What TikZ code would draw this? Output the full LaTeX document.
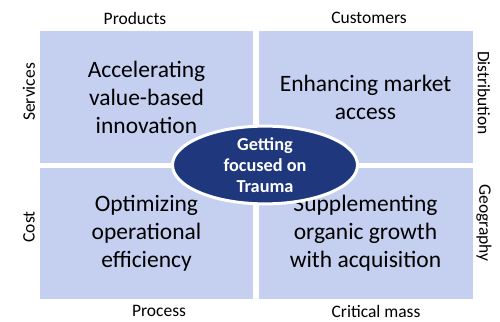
\documentclass[tikz,border=0pt]{standalone}
\usepackage{fontspec}
\setmainfont{Carlito}
\usetikzlibrary{shapes.geometric}
\definecolor{quadblue}{RGB}{197,208,240}
\definecolor{hubblue}{RGB}{31,56,125}
\begin{document}
\begin{tikzpicture}[x=1pt, y=-1pt, quad/.style={rectangle, fill=quadblue, align=center, inner sep=0pt, font=\fontsize{23.5}{28}\selectfont}, axis/.style={inner sep=0pt, font=\fontsize{17.5}{21}\selectfont}, hub/.style={ellipse, fill=hubblue, draw=white, line width=3pt, text=white, align=center, inner sep=0pt, minimum width=185pt, minimum height=67pt, font=\bfseries\fontsize{18.3}{21}\selectfont}]
   \useasboundingbox (0,0) rectangle (500,321);
   % quadrants
   \node[quad, minimum width=213pt, minimum height=132pt] (TL) at (146.5,97)  {Accelerating\\value-based\\innovation};
   \node[quad, minimum width=214pt, minimum height=132pt] (TR) at (365.5,97)  {Enhancing market\\access};
   \node[quad, minimum width=213pt, minimum height=131pt] (BL) at (146.5,233.5) {Optimizing\\operational\\efficiency};
   \node[quad, minimum width=214pt, minimum height=131pt] (BR) at (365.5,233.5) {Supplementing\\organic growth\\with acquisition};
   % centre
   \node[hub] (H) at (265,165) {Getting\\focused on\\Trauma};
   % axis labels
   \node[axis] (P)  at (135,18)  {Products};
   \node[axis] (C)  at (369,18)  {Customers};
   \node[axis] (Pr) at (159,311) {Process};
   \node[axis] (M)  at (376,311) {Critical mass};
   \node[axis, rotate=90]  (S)  at (29,92)   {Services};
   \node[axis, rotate=90]  (Co) at (29,227)  {Cost};
   \node[axis, rotate=-90] (D)  at (484,93)  {Distribution};
   \node[axis, rotate=-90] (G)  at (484,223) {Geography};
\end{tikzpicture}
\end{document}
